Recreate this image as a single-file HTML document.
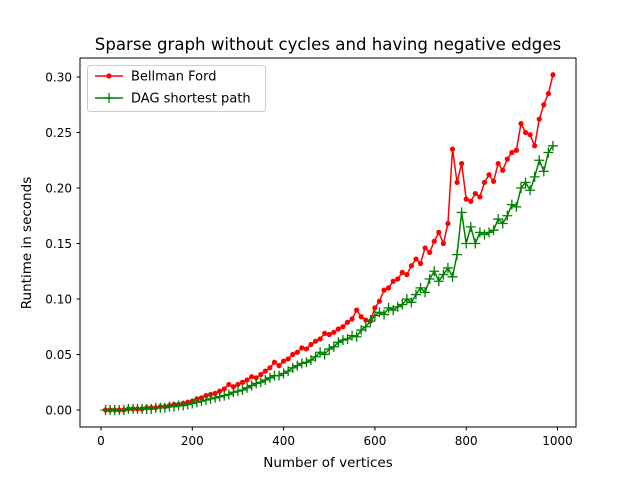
<!DOCTYPE html>
<html><head><meta charset="utf-8"><style>body{margin:0;background:#fff}svg{font-family:"DejaVu Sans","Liberation Sans",sans-serif}</style></head>
<body>
<svg id="c" width="640" height="480"></svg>
<script>
const xs=[];for(let v=10;v<=990;v+=10)xs.push(v);
const bellman=[0,0,0,0,0,0.001,0.001,0.001,0.001,0.002,
0.002,0.002,0.003,0.003,0.004,0.005,0.005,0.006,0.007,0.008,
0.010,0.011,0.013,0.014,0.015,0.017,0.019,0.023,0.021,0.023,
0.025,0.027,0.030,0.029,0.032,0.035,0.038,0.043,0.040,0.044,
0.046,0.050,0.052,0.056,0.055,0.059,0.062,0.064,0.069,0.068,
0.070,0.073,0.075,0.079,0.082,0.090,0.084,0.081,0.080,0.092,
0.098,0.108,0.110,0.116,0.118,0.124,0.122,0.130,0.136,0.132,
0.146,0.142,0.152,0.160,0.150,0.168,0.235,0.205,0.222,0.190,
0.188,0.195,0.192,0.205,0.212,0.206,0.222,0.216,0.226,0.232,
0.234,0.258,0.250,0.248,0.238,0.262,0.275,0.285,0.302];
const dag=[0,0,0,0,0,0.001,0.001,0.001,0.001,0.001,
0.001,0.002,0.002,0.002,0.003,0.003,0.004,0.004,0.005,0.006,
0.007,0.008,0.009,0.010,0.011,0.012,0.013,0.014,0.016,0.017,
0.018,0.020,0.022,0.024,0.025,0.027,0.029,0.031,0.031,0.033,
0.035,0.038,0.040,0.042,0.043,0.045,0.048,0.052,0.050,0.055,
0.057,0.061,0.063,0.064,0.067,0.066,0.072,0.075,0.080,0.085,
0.088,0.086,0.092,0.090,0.093,0.095,0.100,0.097,0.104,0.110,
0.106,0.118,0.125,0.116,0.122,0.128,0.120,0.140,0.178,0.150,
0.165,0.150,0.160,0.158,0.160,0.162,0.172,0.168,0.175,0.185,
0.183,0.200,0.205,0.198,0.210,0.225,0.215,0.232,0.238];
const xTicks=[0,200,400,600,800,1000];
const yTicks=[0,0.05,0.10,0.15,0.20,0.25,0.30];
const yLabels=["0.00","0.05","0.10","0.15","0.20","0.25","0.30"];
const NS="http://www.w3.org/2000/svg",svg=document.getElementById('c');
const X=v=>101+v*0.4565, Y=v=>410-v*1110;
function el(t,a,txt){const e=document.createElementNS(NS,t);for(const k in a)e.setAttribute(k,a[k]);if(txt!=null)e.textContent=txt;svg.appendChild(e);return e;}
let e=el('rect',{x:80,y:58,width:496,height:369,fill:'none',stroke:'#000','stroke-width':1});


xTicks.forEach(t=>{const x=X(t);el('line',{x1:x,x2:x,y1:427,y2:430.5,stroke:'#000'});
e=el('text',{x:x,y:445,'font-size':12,'text-anchor':'middle'},t);

});
yTicks.forEach((t,i)=>{const y=Y(t);el('line',{x1:76.5,x2:80,y1:y,y2:y,stroke:'#000'});
e=el('text',{x:72,y:y+4.5,'font-size':12,'text-anchor':'end'},yLabels[i]);

});
e=el('text',{x:328,y:467,'font-size':13.5,'text-anchor':'middle'},'Number of vertices');


e=el('text',{x:31,y:243,'font-size':13.5,'text-anchor':'middle',transform:'rotate(-90 31 243)'},'Runtime in seconds');


e=el('text',{x:328,y:50,'font-size':16.6,'text-anchor':'middle'},'Sparse graph without cycles and having negative edges');


function series(vals,color,marker,name){
 e=el('polyline',{points:vals.map((v,i)=>X(xs[i])+','+Y(v)).join(' '),fill:'none',stroke:color,'stroke-width':1.5});
 
 
 vals.forEach((v,i)=>{const x=X(xs[i]),y=Y(v);
  if(marker==='o'){e=el('circle',{cx:x,cy:y,r:2.6,fill:color});}
  else{e=el('path',{d:`M${x-5},${y}H${x+5}M${x},${y-5}V${y+5}`,stroke:color,'stroke-width':1.3});}
  
  });
}
series(bellman,'#ff0000','o','bellman-ford');
series(dag,'#008000','+','dag-shortest-path');
e=el('rect',{x:87.5,y:65.5,width:178,height:46,rx:3,fill:'#fff','fill-opacity':0.8,stroke:'#ccc'});


el('line',{x1:95,x2:123,y1:76,y2:76,stroke:'#ff0000','stroke-width':1.5});
el('circle',{cx:109,cy:76,r:2.6,fill:'#ff0000'});
e=el('text',{x:131,y:80.5,'font-size':13},'Bellman Ford');


el('line',{x1:95,x2:123,y1:98,y2:98,stroke:'#008000','stroke-width':1.5});
el('path',{d:'M104,98H114M109,93V103',stroke:'#008000','stroke-width':1.3});
e=el('text',{x:131,y:102.5,'font-size':13},'DAG shortest path');


</script>
</body></html>
